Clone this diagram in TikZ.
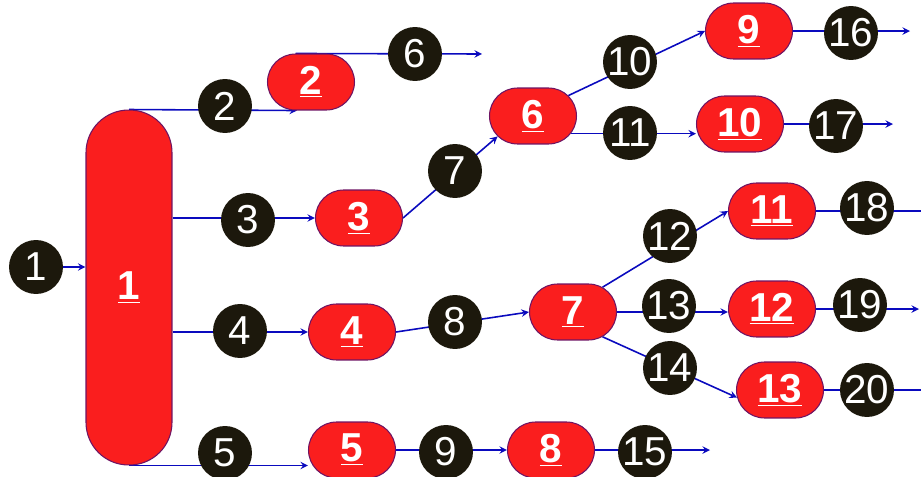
\documentclass[tikz,border=0pt]{standalone}
\usepackage{fontspec}
\setmainfont{Liberation Sans}
\usetikzlibrary{shapes.misc,backgrounds}
\definecolor{unitred}{RGB}{250,30,30}
\definecolor{unitedge}{RGB}{110,20,100}
\definecolor{strmblack}{RGB}{28,24,12}
\definecolor{flowblue}{RGB}{10,10,190}
\begin{document}
\begin{tikzpicture}[x=0.02cm, y=-0.02cm, >=stealth,
    every node/.style={font=\fontsize{23}{23}\selectfont},
    unit/.style={rounded rectangle, fill=unitred, draw=unitedge, line width=0.6pt,
      minimum width=1.74cm, minimum height=1.12cm, inner sep=0pt, text=white,
      font=\fontsize{23}{23}\selectfont\bfseries},
    strm/.style={circle, fill=strmblack, minimum size=1.08cm, inner sep=0pt, text=white},
    flow/.style={->, flowblue, line width=0.9pt}]
  \useasboundingbox (0,0) rectangle (921,477);
  \node[draw=unitedge, fill=unitred, line width=0.6pt, rounded corners=0.85cm,
    minimum width=1.72cm, minimum height=7.1cm, text=white,
    font=\fontsize{23}{23}\selectfont\bfseries] (col) at (129,287.5) {\underline{1}};
  \foreach \n/\x/\y in {2/311/82, 3/359/218, 4/352/332, 5/352/450, 6/533/116,
      7/573/312, 8/551/450, 9/749/31, 10/740/124, 11/772/211, 12/772/309, 13/780/390}
    \node[unit] (b\n) at (\x, \y) {\underline{\n}};
  \foreach \n/\x/\y in {1/36/267, 2/225/106, 3/248/220, 4/240/331, 5/225/453,
      6/415/54, 7/455/171, 8/455/322, 9/446/452, 10/630/62, 11/630/133,
      12/670/236, 13/669/306, 14/670/368, 15/645/452, 16/851/33, 17/836/126,
      18/867/208, 19/860/305, 20/867/390}
    \node[strm] (s\n) at (\x, \y) {\n};
  \coordinate (o6) at (482,54);
  \coordinate (o15) at (710,450);
  \coordinate (o16) at (910,31);
  \coordinate (o17) at (893,124);
  \coordinate (o18) at (935,211);
  \coordinate (o19) at (919,309);
  \coordinate (o20) at (935,390);
  \begin{scope}[on background layer]
    \draw[flow] (s1) -- (s1 -| col.west);
    \draw[flow] (col.north) -- ([xshift=-0.28cm]b2.south);
    \draw[flow] (b2.north west) -- (o6);
    \draw[flow] (col.east |- b3.west) -- (b3.west);
    \draw[flow] (col.east |- b4.west) -- (b4.west);
    \draw[flow] (col.south) -- (col.south -| b5.west);
    \draw[flow] (b3.east) -- (b6.210);
    \draw[flow] (b4.east) -- (b7.west);
    \draw[flow] (b5) -- (b8);
    \draw[flow] (b6.30) -- (b9.west);
    \draw[flow] (b6.-25) -- (b6.-25 -| b10.west);
    \draw[flow] (b7.40) -- (b11.west);
    \draw[flow] (b7.east) -- (b7.east -| b12.west);
    \draw[flow] (b7.-40) -- (b13.190);
    \draw[flow] (b8.east) -- (o15);
    \draw[flow] (b9.east) -- (o16);
    \draw[flow] (b10.east) -- (o17);
    \draw[flow] (b11.east) -- (o18);
    \draw[flow] (b12.east) -- (o19);
    \draw[flow] (b13.east) -- (o20);
  \end{scope}
\end{tikzpicture}
\end{document}
